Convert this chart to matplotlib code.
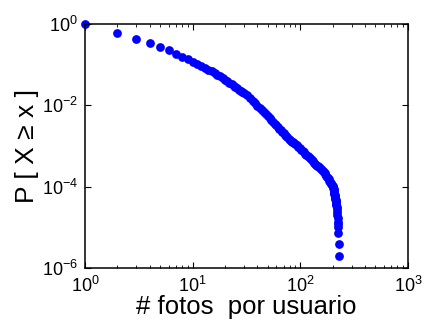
import numpy as np
import matplotlib
matplotlib.use("Agg")
import matplotlib.pyplot as plt

plt.rcParams['font.family'] = ['Liberation Sans', 'DejaVu Sans']
plt.rcParams['mathtext.fontset'] = 'custom'
plt.rcParams['mathtext.rm'] = 'Liberation Sans'

# photos per user (x) and log10 of P[X >= x]
fotos = [1, 2, 3, 4, 5, 6, 7, 8, 9, 10,
         11, 12, 13, 14, 15, 16, 17, 18, 19, 20,
         21, 22, 23, 24, 25, 26, 27, 28, 29, 30,
         32, 34, 36, 38, 40, 42, 44, 46, 48, 50,
         52, 54, 56, 58, 60, 62, 64, 66, 68, 70,
         72, 74, 76, 78, 80, 82, 84, 86, 88, 90,
         93, 96, 99, 102, 105, 108, 111, 114, 117, 120,
         123, 126, 129, 132, 135, 138, 141, 144, 147, 150,
         153, 156, 159, 162, 165, 168, 171, 174, 177, 180,
         183, 186, 189, 192, 195, 198, 200, 202, 203, 204,
         205, 206, 207, 208, 209, 210, 211, 212, 213, 214,
         215, 216, 217, 218, 219, 220, 221, 222, 223, 224,
         225, 226, 227, 228]
log_p = [0.0, -0.214, -0.36, -0.475, -0.565, -0.647, -0.737, -0.81, -0.87, -0.93,
         -0.985, -1.037, -1.085, -1.127, -1.167, -1.205, -1.25, -1.29, -1.335, -1.375,
         -1.41, -1.45, -1.485, -1.52, -1.55, -1.585, -1.61, -1.64, -1.665, -1.69,
         -1.75, -1.82, -1.89, -1.95, -2.01, -2.065, -2.12, -2.17, -2.22, -2.27,
         -2.32, -2.36, -2.41, -2.45, -2.49, -2.53, -2.57, -2.61, -2.65, -2.68,
         -2.72, -2.75, -2.79, -2.82, -2.85, -2.87, -2.89, -2.91, -2.925, -2.945,
         -2.98, -3.02, -3.055, -3.09, -3.12, -3.155, -3.19, -3.215, -3.245, -3.275,
         -3.30, -3.33, -3.355, -3.38, -3.41, -3.43, -3.455, -3.48, -3.50, -3.525,
         -3.55, -3.57, -3.59, -3.62, -3.645, -3.67, -3.70, -3.73, -3.76, -3.79,
         -3.82, -3.85, -3.88, -3.91, -3.94, -3.96, -3.98, -4.00, -4.03, -4.06,
         -4.09, -4.12, -4.15, -4.18, -4.21, -4.24, -4.27, -4.30, -4.33, -4.36,
         -4.39, -4.42, -4.45, -4.50, -4.56, -4.62, -4.70, -4.78, -4.86, -4.92,
         -5.00, -5.15, -5.40, -5.70]

fig = plt.figure(figsize=(4.24, 3.25), dpi=100)
ax = fig.add_axes([0.2005, 0.1754, 0.7615, 0.7506])
ax.loglog(fotos, 10.0 ** np.array(log_p), 'o', color='#0000ff',
          markersize=6.3, markeredgewidth=0, clip_on=False)
ax.set_xlim(1, 1000)
ax.set_ylim(1e-6, 1)
ax.set_xticks([1, 10, 100, 1000])
ax.set_yticks([1e-6, 1e-4, 1e-2, 1])
ax.tick_params(which='both', direction='in', top=True, right=True,
               labelsize=13, colors='black')
ax.tick_params(which='major', length=4, width=0.8)
ax.tick_params(which='minor', length=2, width=0.6)
ax.tick_params(axis='x', pad=6)
ax.tick_params(axis='y', pad=5)
ax.yaxis.set_minor_locator(matplotlib.ticker.NullLocator())
for s in ax.spines.values():
    s.set_linewidth(1.1)
ax.set_xlabel('# fotos  por usuario', fontsize=18.5, labelpad=-1)
ax.set_ylabel('P [ X \u2265 x ]', fontsize=19, labelpad=2)
fig.savefig('out.png', dpi=100)
